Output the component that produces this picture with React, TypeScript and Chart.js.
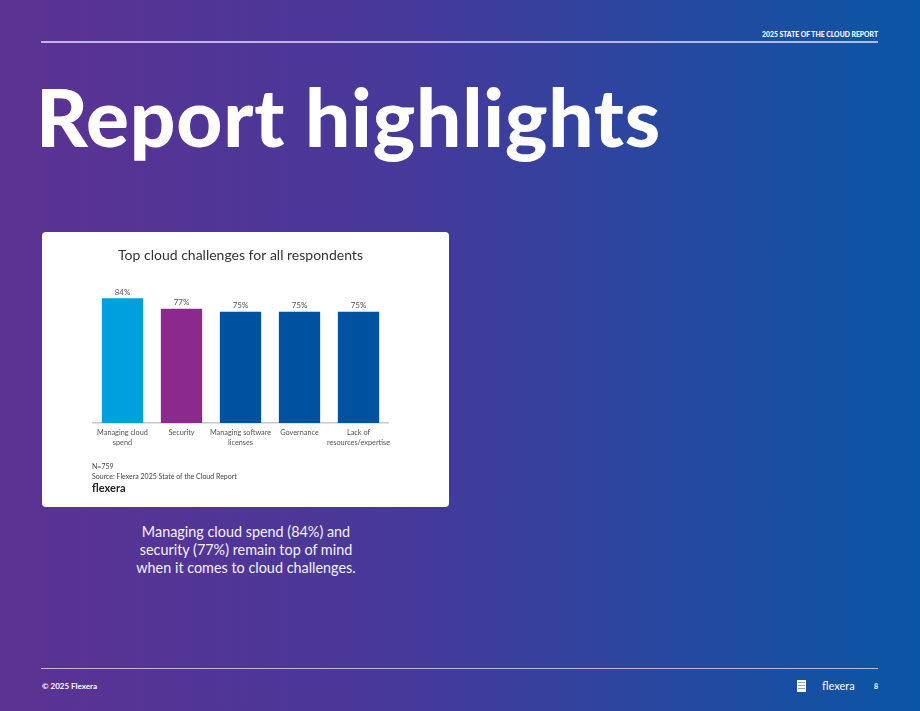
import React, { useEffect, useRef } from "react";
import { Chart, registerables } from "chart.js";

Chart.register(...registerables);

const categories: string[][] = [
  ["Managing cloud", "spend"],
  ["Security"],
  ["Managing software", "licenses"],
  ["Governance"],
  ["Lack of", "resources/expertise"],
];
const values: number[] = [84, 77, 75, 75, 75];
const barColors: string[] = ["#00a0df", "#8b2a8c", "#00529f", "#00529f", "#00529f"];
const chartTitle = "Top cloud challenges for all respondents";
const footnotes: string[] = ["N=759", "Source: Flexera 2025 State of the Cloud Report"];
const captionLines: string[] = [
  "Managing cloud spend (84%) and",
  "security (77%) remain top of mind",
  "when it comes to cloud challenges.",
];

const FONT = "Lato, 'Noto Sans', sans-serif";

const valueLabelPlugin = {
  id: "valueLabels",
  afterDatasetsDraw(chart: any) {
    const { ctx } = chart;
    const meta = chart.getDatasetMeta(0);
    ctx.save();
    ctx.fillStyle = "#555555";
    ctx.font = `8px ${FONT}`;
    ctx.textAlign = "center";
    ctx.textBaseline = "bottom";
    meta.data.forEach((bar: any, i: number) => {
      ctx.fillText(`${values[i]}%`, bar.x, bar.y - 2);
    });
    ctx.restore();
  },
};

function BarChart() {
  const ref = useRef<HTMLCanvasElement | null>(null);
  useEffect(() => {
    if (!ref.current) return;
    const chart = new Chart(ref.current, {
      type: "bar",
      data: {
        labels: categories,
        datasets: [
          {
            data: values,
            backgroundColor: barColors,
            barPercentage: 0.7,
            categoryPercentage: 1,
          },
        ],
      },
      options: {
        responsive: false,
        animation: false,
        maintainAspectRatio: false,
        layout: { padding: { left: 51, right: 61, top: 0, bottom: 44 } },
        plugins: {
          legend: { display: false },
          tooltip: { enabled: false },
          title: {
            display: true,
            text: chartTitle,
            color: "#333333",
            font: { family: FONT, size: 14, weight: "normal" },
            padding: { top: 14.6, bottom: 11.2 },
            lineHeight: 1.2,
          } as any,
        },
        scales: {
          x: {
            grid: { display: false, drawTicks: false },
            border: { display: true, color: "#c8c8c8", width: 1.5 },
            ticks: {
              color: "#555555",
              font: { family: FONT, size: 7.3, lineHeight: 1.35 },
              padding: 5,
              maxRotation: 0,
              autoSkip: false,
            },
            afterFit: (scale: any) => {
              scale.height = 40;
            },
          },
          y: {
            display: false,
            min: 0,
            max: 100,
          },
        },
      },
      plugins: [valueLabelPlugin],
    });
    return () => chart.destroy();
  }, []);
  return <canvas ref={ref} width={407} height={275} style={{ position: "absolute", left: 0, top: 0, width: 407, height: 275 }} />;
}

export default function App() {
  return (
    <div
      style={{
        position: "fixed",
        left: 0,
        top: 0,
        width: 920,
        height: 711,
        overflow: "hidden",
        background: "linear-gradient(to right, #5c3292 0%, #46399a 45%, #0a56a5 100%)",
        fontFamily: FONT,
        color: "#ffffff",
      }}
    >
      <div
        style={{
          position: "absolute",
          right: 42,
          top: 30,
          fontSize: 6.8,
          fontWeight: 900,
          whiteSpace: "nowrap",
        }}
      >
        2025 STATE OF THE CLOUD REPORT
      </div>
      <div style={{ position: "absolute", left: 41, top: 41, width: 837, height: 1.5, background: "rgba(220,215,245,0.8)" }} />
      <div
        style={{
          position: "absolute",
          left: 36,
          top: 68,
          fontSize: 80,
          fontWeight: 900,
          lineHeight: "96px",
          whiteSpace: "nowrap",
          letterSpacing: 0.8,
        }}
      >
        Report highlights
      </div>
      <div
        style={{
          position: "absolute",
          left: 42,
          top: 232,
          width: 407,
          height: 275,
          background: "#ffffff",
          borderRadius: 4,
        }}
      >
        <BarChart />
        <div style={{ position: "absolute", left: 50, top: 229, color: "#444444", fontSize: 7, lineHeight: "10px" }}>
          {footnotes.map((f) => (
            <div key={f}>{f}</div>
          ))}
        </div>
        <div style={{ position: "absolute", left: 50, top: 249, color: "#222222", fontSize: 11, fontWeight: 700 }}>flexera</div>
      </div>
      <div
        style={{
          position: "absolute",
          left: 96,
          width: 300,
          top: 523,
          textAlign: "center",
          fontSize: 14.4,
          lineHeight: "18px",
          color: "#f4f2fa",
        }}
      >
        {captionLines.map((l) => (
          <div key={l}>{l}</div>
        ))}
      </div>
      <div style={{ position: "absolute", left: 41, top: 668, width: 837, height: 1, background: "rgba(220,215,245,0.8)" }} />
      <div style={{ position: "absolute", left: 42, top: 681, fontSize: 8, fontWeight: 700 }}>© 2025 Flexera</div>
      <div style={{ position: "absolute", left: 797, top: 680, width: 9, height: 12, background: "#ffffff" }}>
        {[2, 5, 8].map((y) => (
          <div key={y} style={{ position: "absolute", left: 1, top: y, width: 7, height: 1, background: "#9aa0c8" }} />
        ))}
      </div>
      <div style={{ position: "absolute", left: 822, top: 679, fontSize: 11 }}>flexera</div>
      <div style={{ position: "absolute", left: 874, top: 682, fontSize: 7, fontWeight: 700 }}>8</div>
    </div>
  );
}
